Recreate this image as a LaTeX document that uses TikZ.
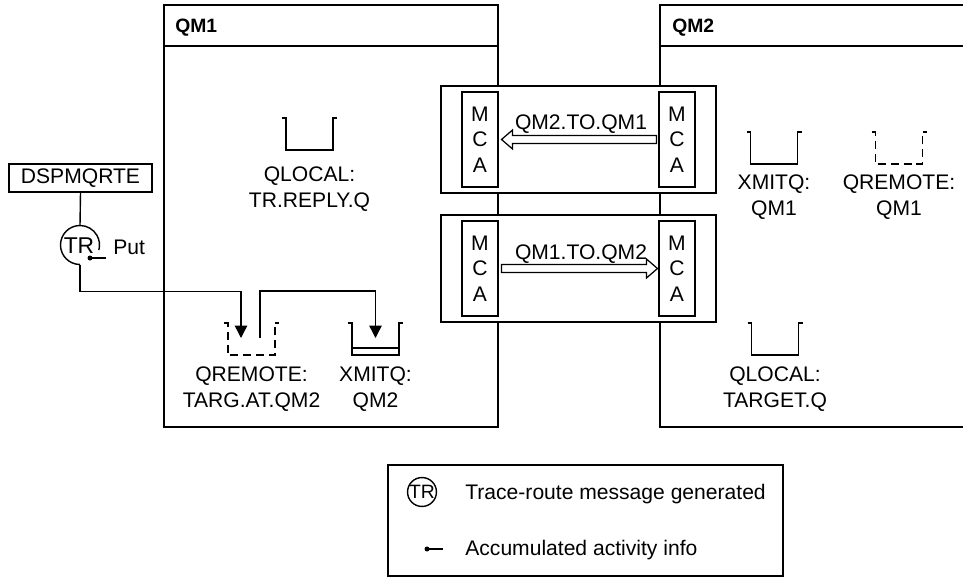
\documentclass[tikz,border=0pt]{standalone}
\usepackage{fontspec}
\setmainfont{Liberation Sans}
\usetikzlibrary{calc,arrows.meta}

\tikzset{
	txt/.style={font=\fontsize{12pt}{14.4pt}\selectfont, inner sep=0pt},
	title/.style={font=\fontsize{11pt}{13pt}\selectfont\bfseries, inner sep=0pt},
	qm/.style={line width=0.9pt},
	chan/.style={draw, fill=white, line width=1.1pt},
	mca/.style={txt, draw, fill=white, line width=0.6pt, minimum width=0.72cm, minimum height=1.9cm, align=center},
	link/.style={line width=0.8pt},
	put/.style={link, -{Triangle[width=7pt,length=7pt]}},
	pipe/.style={line width=0.7pt, fill=white},
	queue/.style={line width=1.1pt},
	remote/.style={queue, dash pattern=on 4.5pt off 2.8pt},
}

\begin{document}
\begin{tikzpicture}[x=0.02cm, y=-0.02cm]
		\useasboundingbox (0,0) rectangle (963,581);

		\draw[qm] (164,5) rectangle (498,427);
		\draw[qm] (164,46) -- (498,46);
		\node[title, anchor=base west] (qma) at (175,33) {QM1};

		\draw[qm] (963,5) -- (660,5) -- (660,427) -- (963,427);
		\draw[qm] (660,46) -- (963,46);
		\node[title, anchor=base west] (qmb) at (672,33) {QM2};

		\draw[chan] (441,86) rectangle (716,193);
		\draw[chan] (441,215) rectangle (716,322);
		\node[mca] (mcaa) at (480,139.5) {M\\C\\A};
		\node[mca] (mcab) at (677,139.5) {M\\C\\A};
		\node[mca] (mcac) at (480,268.5) {M\\C\\A};
		\node[mca] (mcad) at (677,268.5) {M\\C\\A};

		\draw[pipe] ($(mcaa.east)+(3,0)$) -- ++(11,-9.5) -- ++(0,5.5) -- ($(mcab.west)+(-2,-4)$)
			-- ++(0,8) -- ($(mcaa.east)+(14,4)$) -- ++(0,5.5) -- cycle;
		\draw[pipe] ($(mcac.east)+(3,-4)$) -- ($(mcad.west)+(-12,-4)$) -- ++(0,-5.5) -- ($(mcad.west)+(-1,0)$)
			-- ++(-11,9.5) -- ++(0,-5.5) -- ($(mcac.east)+(3,4)$) -- cycle;
		\node[txt, anchor=base] (chup) at (581,130) {QM2.TO.QM1};
		\node[txt, anchor=base] (chdn) at (581,259) {QM1.TO.QM2};

		\coordinate (trq) at (309.5,118);
		\coordinate (taq) at (251.5,323);
		\coordinate (xq2) at (375.5,323);
		\coordinate (xq1) at (774,132);
		\coordinate (rq1) at (899,132);
		\coordinate (tgq) at (775,323);

		\draw[queue]  ($(trq)+(-27.5,0)$) -- ++(4,0) -- ++(0,32) -- ++(47,0) -- ++(0,-32) -- ++(4,0);
		\draw[remote] ($(taq)+(-27.5,0)$) -- ++(4,0) -- ++(0,32) -- ++(47,0) -- ++(0,-32) -- ++(4,0);
		\draw[queue]  ($(xq2)+(-27.5,0)$) -- ++(4,0) -- ++(0,32) -- ++(47,0) -- ++(0,-32) -- ++(4,0);
		\draw[queue]  ($(xq1)+(-27.5,0)$) -- ++(4,0) -- ++(0,32) -- ++(47,0) -- ++(0,-32) -- ++(4,0);
		\draw[remote] ($(rq1)+(-27.5,0)$) -- ++(4,0) -- ++(0,32) -- ++(47,0) -- ++(0,-32) -- ++(4,0);
		\draw[queue]  ($(tgq)+(-27.5,0)$) -- ++(4,0) -- ++(0,32) -- ++(47,0) -- ++(0,-32) -- ++(4,0);
		\draw[queue] ($(xq2)+(-23.5,25)$) rectangle ($(xq2)+(23.5,32)$);

		\node[txt, align=center, anchor=base] (trql) at (309.5,207) {QLOCAL:\\TR.REPLY.Q};
		\node[txt, align=center, anchor=base] (taql) at (251.5,407) {QREMOTE:\\TARG.AT.QM2};
		\node[txt, align=center, anchor=base] (xq2l) at (375.5,407) {XMITQ:\\QM2};
		\node[txt, align=center, anchor=base] (xq1l) at (774,215) {XMITQ:\\QM1};
		\node[txt, align=center, anchor=base] (rq1l) at (899,215) {QREMOTE:\\QM1};
		\node[txt, align=center, anchor=base] (tgql) at (775,407) {QLOCAL:\\TARGET.Q};

		\node[txt, draw, line width=0.9pt, minimum width=2.86cm, minimum height=0.56cm] (dsp) at (80.5,178) {DSPMQRTE};
		\node[txt, font=\fontsize{13pt}{15pt}\selectfont] (tra) at (79,245.5) {TR};
		\coordinate (trtop) at (80,225.5);
		\coordinate (trbot) at (80,264.5);
		\coordinate (acc) at (90,258);
		\draw[link] (80,245) ++(90:19.5) arc[start angle=90, end angle=375, radius=19.5];
		\draw[link] (dsp.south) -- (trtop);
		\fill (acc) circle[radius=2.5];
		\draw[link] (acc) -- ++(16,0);
		\node[txt, anchor=base west] (put) at (113,254) {Put};

		\draw[put] (trbot) |- (241,291.5) -- ($(taq)+(-10.5,15)$);
		\draw[put] ($(taq)+(8.5,15)$) |- (375.5,291) -- ($(xq2)+(0,15)$);

		\draw[line width=1.1pt] (388,465) rectangle (783,576);
		\node[draw, circle, line width=0.8pt, minimum size=0.52cm, inner sep=0pt, font=\fontsize{11pt}{13pt}\selectfont] (trk) at (422,492) {TR};
		\node[txt, anchor=base west] (trkl) at (465,499) {Trace-route message generated};
		\coordinate (acck) at (427,549);
		\fill (acck) circle[radius=2.5];
		\draw[link] (acck) -- ++(16,0);
		\node[txt, anchor=base west] (acckl) at (465,555) {Accumulated activity info};

	\end{tikzpicture}
\end{document}
